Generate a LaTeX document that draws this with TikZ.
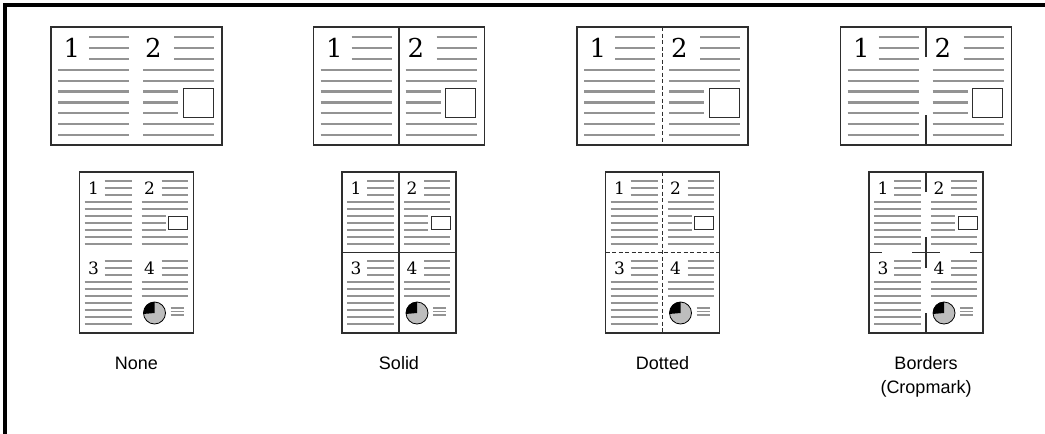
\documentclass[tikz,border=0pt]{standalone}
\usepackage{fontspec}
\newfontfamily\labelfont{Liberation Sans}
\newfontfamily\digitfont{DejaVu Serif}
\usepackage{tikz}
\usetikzlibrary{positioning}
\definecolor{linegray}{HTML}{939393}
\definecolor{piegray}{HTML}{BDBDBD}
\definecolor{framegray}{HTML}{2E2E2E}

\begin{document}
\begin{tikzpicture}[x=1pt,y=-1pt,
    txtline/.style={draw=linegray,line width=2.2pt},
    ptline/.style={draw=linegray,line width=1.9pt},
    tinyline/.style={draw=linegray,line width=1.2pt},
    sheet/.style={draw=framegray,line width=1.2pt},
    dashsep/.style={draw=framegray,line width=0.9pt,dash pattern=on 4pt off 2.5pt},
    numbig/.style={font=\digitfont\fontsize{26}{26}\selectfont,inner sep=0pt},
    numsmall/.style={font=\digitfont\fontsize{17}{17}\selectfont,inner sep=0pt},
    lbl/.style={font=\labelfont\fontsize{18}{20}\selectfont,inner sep=0pt,anchor=base}]
  \useasboundingbox (0,0) rectangle (1045,434);
  \draw[line width=4pt] (5,434) -- (5,5) -- (1045,5);

  \foreach \cx [count=\i] in {136.5,399,662.5,926}{
    % landscape sheet
    \draw[sheet] (\cx-85.5,27) rectangle (\cx+85.5,145);
    \node[numbig] (la-\i) at (\cx-64.5,48) {1};
    \node[numbig] (lb-\i) at (\cx+17,48) {2};
    \foreach \k in {0,1,2}{
      \draw[txtline] (\cx-47.5,37+10.9*\k) -- ++(40,0);
      \draw[txtline] (\cx+37.5,37+10.9*\k) -- ++(40,0);}
    \foreach \k in {3,...,9}
      \draw[txtline] (\cx-78.5,37+10.9*\k) -- ++(71,0);
    \foreach \k in {3,4,8,9}
      \draw[txtline] (\cx+6.5,37+10.9*\k) -- ++(71,0);
    \foreach \k in {5,6,7}
      \draw[txtline] (\cx+6.5,37+10.9*\k) -- ++(35,0);
    \draw[framegray,line width=0.9pt] (\cx+46.5,88) rectangle (\cx+76.5,117);

    % portrait sheet
    \draw[sheet] (\cx-57,172) rectangle (\cx+57,333);
    \node[numsmall] (pa-\i) at (\cx-43,188) {1};
    \node[numsmall] (pb-\i) at (\cx+13,188) {2};
    \node[numsmall] (pc-\i) at (\cx-43,268) {3};
    \node[numsmall] (pd-\i) at (\cx+13,268) {4};
    \foreach \y in {181,261}{
      \foreach \k in {0,1,2}{
        \draw[ptline] (\cx-32,\y+7*\k) -- ++(27,0);
        \draw[ptline] (\cx+25,\y+7*\k) -- ++(26,0);}
      \foreach \k in {3,...,9}
        \draw[ptline] (\cx-52,\y+7*\k) -- ++(47,0);}
    \foreach \k in {3,4,8,9}
      \draw[ptline] (\cx+5,181+7*\k) -- ++(46,0);
    \foreach \k in {5,6,7}
      \draw[ptline] (\cx+5,181+7*\k) -- ++(24,0);
    \draw[framegray,line width=0.8pt] (\cx+32,216) rectangle (\cx+51,229);
    \foreach \k in {3,4,5}
      \draw[ptline] (\cx+5,261+7*\k) -- ++(46,0);
    \fill[piegray] (\cx+18,313) circle (11);
    \fill[black] (\cx+18,313) -- ++(-90:11) arc (-90:-185:11) -- cycle;
    \draw[black,line width=0.8pt] (\cx+18,313) circle (11);
    \foreach \k in {0,1,2}
      \draw[tinyline] (\cx+34,308+3.5*\k) -- ++(13,0);
  }

  % separators
  \draw[sheet] (399,27) -- (399,145);
  \draw[sheet] (399,172) -- (399,333);
  \draw[sheet] (342,252.5) -- (456,252.5);
  \draw[dashsep] (662.5,27) -- (662.5,145);
  \draw[dashsep] (662.5,172) -- (662.5,333);
  \draw[dashsep] (605.5,252.5) -- (719.5,252.5);
  \draw[sheet] (926,27) -- (926,57) (926,115) -- (926,145);
  \draw[sheet] (926,172) -- (926,192) (926,237) -- (926,268) (926,313) -- (926,333);
  \draw[sheet] (869,252.5) -- (882,252.5) (912,252.5) -- (940,252.5) (970,252.5) -- (983,252.5);

  % labels
  \node[lbl] (lbl-none) at (136.5,369) {None};
  \node[lbl] (lbl-solid) at (399,369) {Solid};
  \node[lbl] (lbl-dotted) at (662.5,369) {Dotted};
  \node[lbl] (lbl-borders) at (926,369) {Borders};
  \node[lbl] (lbl-crop) at (926,393) {(Cropmark)};
\end{tikzpicture}
\end{document}
